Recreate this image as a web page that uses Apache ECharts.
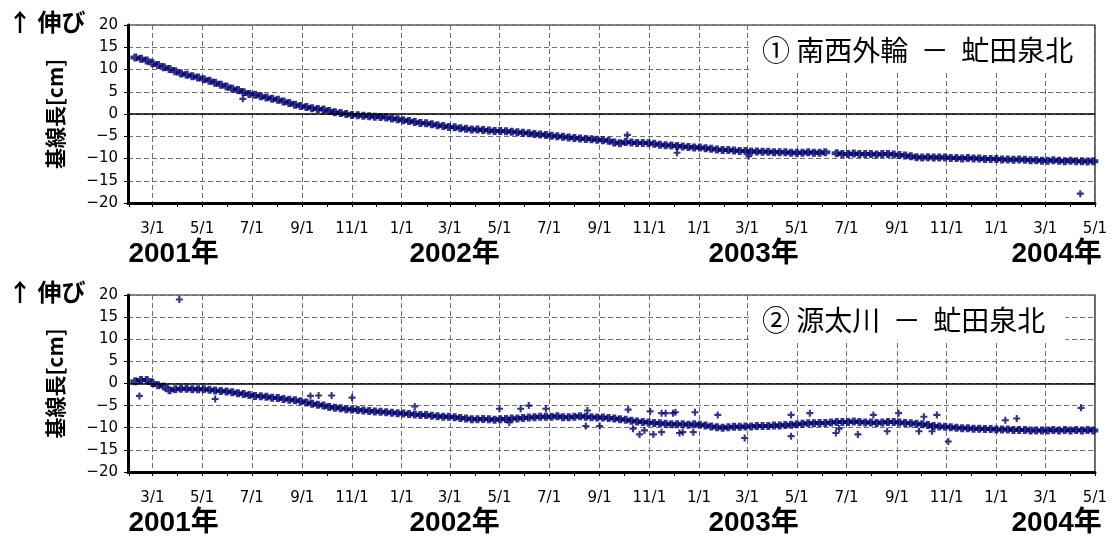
<!DOCTYPE html>
<html><head><meta charset="utf-8">
<script src="https://cdn.jsdelivr.net/npm/echarts@6/dist/echarts.min.js"></script>
<style>html,body{margin:0;padding:0;background:#fff}#c{width:1110px;height:537px}</style>
</head><body><div id="c"></div>
<script>
// ---- data ----
const sampleStart = '2001-02-08';
const sampleStepDays = 7;
const panelTitles = ['① 南西外輪  －  虻田泉北', '② 源太川  －  虻田泉北'];
const panel1Values = [12.7,12.4,12.0,11.4,11.0,10.5,10.1,9.6,9.1,8.8,
 8.5,8.2,7.8,7.5,7.0,6.6,6.2,5.7,5.4,4.9,
 4.5,4.3,4.0,3.7,3.4,3.2,2.8,2.5,2.1,1.8,
 1.6,1.3,1.1,1.0,0.7,0.4,0.2,0.0,-0.2,-0.3,
 -0.4,-0.5,-0.6,-0.7,-0.8,-1.0,-1.2,-1.4,-1.6,-1.8,
 -2.0,-2.1,-2.3,-2.5,-2.7,-2.9,-3.0,-3.2,-3.3,-3.5,
 -3.5,-3.6,-3.7,-3.8,-3.8,-3.9,-4.0,-4.1,-4.2,-4.3,
 -4.5,-4.6,-4.7,-4.9,-5.0,-5.1,-5.3,-5.4,-5.5,-5.6,
 -5.7,-5.8,-5.9,-6.0,-6.4,-6.6,-6.3,-6.4,-6.5,-6.5,
 -6.6,-6.7,-6.9,-7.0,-7.1,-7.2,-7.3,-7.4,-7.5,-7.5,
 -7.7,-7.8,-8.0,-8.1,-8.1,-8.2,-8.3,-8.3,-8.4,-8.4,
 -8.5,-8.5,-8.6,-8.6,-8.6,-8.7,-8.7,-8.7,-8.6,-8.7,
 -8.7,-8.6,null,-8.8,-9.0,-9.0,-8.9,-9.0,-9.0,-9.0,
 -9.1,-9.0,-9.0,-9.1,-9.2,-9.3,-9.5,-9.7,-9.8,-9.7,
 -9.8,-9.8,-9.8,-9.9,-9.9,-10.0,-9.9,-10.0,-10.0,-10.1,
 -10.1,-10.1,-10.2,-10.2,-10.3,-10.2,-10.3,-10.4,-10.4,-10.5,
 -10.5,-10.4,-10.5,-10.6,-10.5,-10.6,-10.6,-10.7,-10.6];
const panel2Values = [0.5,0.8,0.8,0.1,-0.4,-0.7,-1.5,-1.3,-1.2,-1.2,
 -1.3,-1.3,-1.3,-1.4,-1.6,-1.7,-1.8,-2.0,-2.2,-2.4,
 -2.6,-2.8,-2.9,-3.0,-3.2,-3.3,-3.5,-3.7,-3.8,-4.0,
 -4.3,-4.6,-4.8,-5.0,-5.3,-5.5,-5.6,-5.8,-5.9,-6.0,
 -6.1,-6.2,-6.3,-6.4,-6.5,-6.6,-6.7,-6.8,-6.9,-7.0,
 -7.1,-7.1,-7.3,-7.4,-7.5,-7.5,-7.6,-7.8,-7.9,-8.1,
 -8.1,-8.0,-8.1,-8.2,-8.1,-8.0,-7.9,-7.9,-7.8,-7.7,
 -7.6,-7.5,-7.5,-7.5,-7.4,-7.6,-7.6,-7.5,-7.4,-7.5,
 -7.6,-7.7,-7.7,-7.8,-7.9,-8.1,-8.2,-8.4,-8.6,-8.7,
 -8.8,-8.9,-9.0,-9.1,-9.2,-9.2,-9.2,-9.3,-9.2,-9.3,
 -9.5,-9.7,-9.9,-10.0,-9.9,-9.8,-9.8,-9.7,-9.7,-9.6,
 -9.6,-9.6,-9.5,-9.5,-9.4,-9.3,-9.2,-9.1,-9.0,-9.0,
 -8.9,-8.9,-8.8,-8.7,-8.7,-8.7,-8.6,-8.7,-8.8,-8.8,
 -8.9,-8.8,-8.7,-8.7,-8.8,-8.9,-9.0,-9.1,-9.2,-9.4,
 -9.6,-9.7,-9.8,-9.9,-10.0,-10.1,-10.1,-10.2,-10.2,-10.3,
 -10.3,-10.4,-10.4,-10.4,-10.5,-10.5,-10.5,-10.6,-10.6,-10.6,
 -10.6,-10.5,-10.6,-10.5,-10.6,-10.5,-10.6,-10.5,-10.6];
const panel1Outliers = [['2001-06-20',3.4],['2002-10-05',-4.7],['2002-12-05',-8.7],['2003-03-03',-9.5],['2004-04-13',-17.9]];
const panel2Outliers = [['2001-02-13',-2.8],['2001-04-03',19.0],['2001-05-17',-3.5],['2001-09-11',-2.8],['2001-09-21',-2.7],
 ['2001-10-07',-2.7],['2001-11-01',-3.2],['2002-01-17',-5.2],['2002-05-01',-5.7],['2002-05-13',-8.8],['2002-05-27',-5.7],
 ['2002-06-06',-5.0],['2002-06-27',-5.7],['2002-08-15',-9.6],['2002-08-17',-6.1],['2002-09-01',-9.6],['2002-10-06',-5.9],
 ['2002-10-12',-10.2],['2002-10-20',-11.5],['2002-10-26',-10.6],['2002-11-02',-6.3],['2002-11-06',-11.5],['2002-11-16',-11.0],
 ['2002-11-16',-6.7],['2002-11-21',-6.7],['2002-11-30',-6.7],['2002-12-03',-6.5],['2002-12-08',-11.2],['2002-12-12',-11.0],
 ['2002-12-25',-11.0],['2002-12-27',-6.5],['2003-01-24',-7.1],['2003-02-26',-12.3],['2003-04-24',-7.1],['2003-04-24',-11.9],
 ['2003-05-17',-6.7],['2003-06-18',-11.2],['2003-06-22',-10.2],['2003-07-15',-11.5],['2003-08-03',-7.1],['2003-08-20',-10.8],
 ['2003-09-03',-6.7],['2003-09-28',-10.8],['2003-10-04',-7.5],['2003-10-14',-10.8],['2003-10-20',-7.1],['2003-11-03',-13.1],
 ['2004-01-12',-8.3],['2004-01-26',-7.9],['2004-04-14',-5.5]];
const axisMinDate = '2001-01-30';
const axisMaxDate = '2004-05-01';
const monthTicks = ['2001-02-01','2001-03-01','2001-04-01','2001-05-01','2001-06-01','2001-07-01','2001-08-01','2001-09-01','2001-10-01','2001-11-01','2001-12-01',
 '2002-01-01','2002-02-01','2002-03-01','2002-04-01','2002-05-01','2002-06-01','2002-07-01','2002-08-01','2002-09-01','2002-10-01','2002-11-01','2002-12-01',
 '2003-01-01','2003-02-01','2003-03-01','2003-04-01','2003-05-01','2003-06-01','2003-07-01','2003-08-01','2003-09-01','2003-10-01','2003-11-01','2003-12-01',
 '2004-01-01','2004-02-01','2004-03-01','2004-04-01','2004-05-01'];
const labelTicks = ['2001-03-01','2001-05-01','2001-07-01','2001-09-01','2001-11-01','2002-01-01','2002-03-01','2002-05-01','2002-07-01','2002-09-01',
 '2002-11-01','2003-01-01','2003-03-01','2003-05-01','2003-07-01','2003-09-01','2003-11-01','2004-01-01','2004-03-01','2004-05-01'];
const tickLabels = ['3/1','5/1','7/1','9/1','11/1','1/1','3/1','5/1','7/1','9/1','11/1','1/1','3/1','5/1','7/1','9/1','11/1','1/1','3/1','5/1'];
const yearLabelDates = ['2001-03-27','2002-03-07','2003-03-09','2004-03-15'];
const yearLabels = ['2001年','2002年','2003年','2004年'];
const yAxisName = '基線長[cm]';
const upLabel = '↑ 伸び';

// ---- build ----
// x is expressed in days since 1970-01-01 (UTC) on a value axis
function dayNum(s){const p=s.split('-').map(Number);return Date.UTC(p[0],p[1]-1,p[2])/86400000;}
const startDay = dayNum(sampleStart);
function bandData(vals){
  const out=[];
  vals.forEach((v,i)=>{ if(v!==null) out.push([startDay+i*sampleStepDays, v]); });
  return out;
}
const outData = arr => arr.map(d=>[dayNum(d[0]), d[1]]);
const minX = dayNum(axisMinDate), maxX = dayNum(axisMaxDate);
const monthX = monthTicks.map(dayNum);
const labelX = labelTicks.map(dayNum);
const yearX = yearLabelDates.map(dayNum);
const bandPath = 'path://M0,2.5H10V7.5H0Z M3,0H7V10H3Z';
const plusPath = 'path://M0,3.5H10V6.5H0Z M3.5,0H6.5V10H3.5Z';
const dotColor = '#00006e';
const gridColor = '#707070';

const grids = [
  {left:128, right:11, top:25, height:178},
  {left:128, right:11, top:295, height:177}
];
const xAxes=[], yAxes=[], series=[], titles=[], graphics=[];
const bands=[panel1Values, panel2Values];
const outs=[panel1Outliers, panel2Outliers];
grids.forEach((g,gi)=>{
  g.show = true; g.borderColor = '#111'; g.borderWidth = 1.2; g.backgroundColor = '#fff';
  xAxes.push({type:'value', gridIndex:gi, min:minX, max:maxX, position:'bottom',
    axisLine:{show:true, onZero:false, lineStyle:{color:'#000', width:3}},
    axisTick:{show:true, customValues:monthX, length:4, lineStyle:{color:'#000', width:1}},
    axisLabel:{show:false}, splitLine:{show:false}});
  xAxes.push({type:'value', gridIndex:gi, min:minX, max:maxX, position:'bottom',
    axisLine:{show:false, onZero:false}, axisTick:{show:false, customValues:labelX},
    axisLabel:{show:true, customValues:labelX, margin:19, fontFamily:'DejaVu Sans', fontSize:15, color:'#000',
      formatter:(v)=>{const k=labelX.indexOf(v);return k>=0?tickLabels[k]:'';}},
    splitLine:{show:true, lineStyle:{color:gridColor, width:1, type:[5,3]}}});
  xAxes.push({type:'value', gridIndex:gi, min:minX, max:maxX, position:'bottom',
    axisLine:{show:false, onZero:false}, axisTick:{show:false, customValues:yearX},
    axisLabel:{show:true, customValues:yearX, margin:37, fontFamily:'Liberation Sans, "Noto Sans CJK JP"', fontWeight:'bold', fontSize:28, color:'#000',
      formatter:(v)=>{const k=yearX.indexOf(v);return k>=0?yearLabels[k]:'';}},
    splitLine:{show:false}});
  yAxes.push({type:'value', gridIndex:gi, min:-20, max:20, interval:5,
    axisLine:{show:true, onZero:false, lineStyle:{color:'#000', width:3}},
    axisTick:{show:true, length:4, lineStyle:{color:'#000'}},
    axisLabel:{fontFamily:'DejaVu Sans', fontSize:15, color:'#000', margin:10,
      formatter:(v)=> v<0 ? '\u2212'+(-v) : String(v)},
    splitLine:{show:true, lineStyle:{color:gridColor, width:1, type:[5,3]}},
    name:yAxisName, nameLocation:'middle', nameRotate:90, nameGap:62,
    nameTextStyle:{fontFamily:'"Noto Sans CJK JP"', fontWeight:'bold', fontSize:21, color:'#000'}});
  series.push({type:'scatter', xAxisIndex:gi*3, yAxisIndex:gi, data:bandData(bands[gi]),
    symbol:bandPath, symbolSize:[10,8], itemStyle:{color:dotColor}, silent:true, animation:false,
    markLine:{silent:true, symbol:'none', animation:false, label:{show:false},
      lineStyle:{color:'#000', type:'solid', width:1.5}, data:[{yAxis:0}]}});
  series.push({type:'scatter', xAxisIndex:gi*3, yAxisIndex:gi, data:outData(outs[gi]),
    symbol:plusPath, symbolSize:[7,7], itemStyle:{color:dotColor}, silent:true, animation:false});
  titles.push({text:panelTitles[gi], left:752, top:g.top+1, padding:[10,20,6,10], backgroundColor:'#fff',
    textStyle:{fontFamily:'"Noto Sans CJK JP"', fontSize:28, fontWeight:'normal', color:'#000'}});
  graphics.push({type:'text', left:8, top:g.top-15, style:{text:upLabel, font:'bold 24px "Noto Sans CJK JP"', fill:'#000'}});
});

const chart = echarts.init(document.getElementById('c'), null, {renderer:'canvas'});
chart.setOption({
  animation:false, backgroundColor:'#fff',
  grid:grids, xAxis:xAxes, yAxis:yAxes, series:series, title:titles, graphic:graphics
});
</script></body></html>
